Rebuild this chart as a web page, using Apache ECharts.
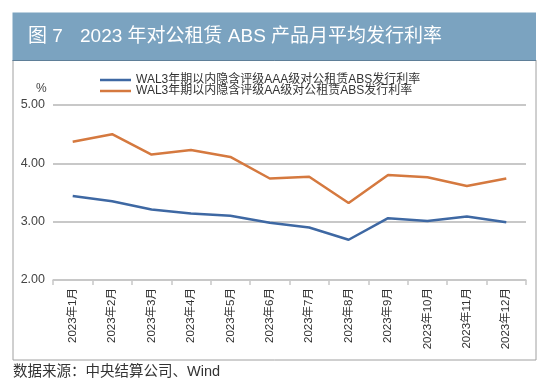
<!DOCTYPE html>
<html><head><meta charset="utf-8">
<script src="https://cdn.jsdelivr.net/npm/echarts@6/dist/echarts.min.js"></script>
<style>html,body{margin:0;padding:0;background:#fff}#c{width:550px;height:392px}</style>
</head><body><div id="c"></div>
<script>
const categories = ['2023年1月','2023年2月','2023年3月','2023年4月','2023年5月','2023年6月','2023年7月','2023年8月','2023年9月','2023年10月','2023年11月','2023年12月'];
const seriesNames = ['WAL3年期以内隐含评级AAA级对公租赁ABS发行利率','WAL3年期以内隐含评级AA级对公租赁ABS发行利率'];
const aaaValues = [3.44,3.35,3.21,3.14,3.10,2.98,2.90,2.69,3.06,3.01,3.09,2.99];
const aaValues = [4.37,4.50,4.15,4.23,4.11,3.74,3.77,3.32,3.80,3.76,3.61,3.74];
const yTicks = [2,3,4,5];
const titleNum = '图 7';
const titleText = '2023 年对公租赁 ABS 产品月平均发行利率';
const sourceText = '数据来源：中央结算公司、Wind';

const FONT = '"Liberation Sans","Noto Sans CJK SC",sans-serif';
const chart = echarts.init(document.getElementById('c'));
chart.setOption({
  animation: false,
  textStyle: {fontFamily: FONT},
  graphic: [
    {type:'rect', shape:{x:13,y:60,width:523,height:300}, style:{fill:'#fff', stroke:'#a0a0a0', lineWidth:1}, z:-10},
    {type:'rect', shape:{x:12.5,y:12.5,width:523.5,height:48}, style:{fill:'#7ba3c0'}, z:-5},
    {type:'line', shape:{x1:12.5,y1:60.5,x2:536,y2:60.5}, style:{stroke:'#5f7f98', lineWidth:1}, z:-4},
    {type:'text', left:28, top:27, style:{text:titleNum, fill:'#fff', font:'19px ' + FONT}},
    {type:'text', left:80, top:27, style:{text:titleText, fill:'#fff', font:'19px ' + FONT}},
    {type:'text', left:36, top:83, style:{text:'%', fill:'#444', font:'12px ' + FONT}},
    {type:'text', left:13, top:365, style:{text:sourceText, fill:'#333', font:'14.5px ' + FONT}}
  ],
  legend: [
    {data:[seriesNames[0]], icon:'rect', left:95, top:69, itemWidth:31, itemHeight:2.5, itemGap:0, textStyle:{fontSize:12, color:'#333', fontFamily:FONT}},
    {data:[seriesNames[1]], icon:'rect', left:95, top:80, itemWidth:31, itemHeight:2.5, itemGap:0, textStyle:{fontSize:12, color:'#333', fontFamily:FONT}}
  ],
  grid: {left:53, right:24, top:105, bottom:112, containLabel:false},
  xAxis: {
    type:'category', data:categories, boundaryGap:true,
    axisLine:{lineStyle:{color:'#c8c8c8', width:1.5}},
    axisTick:{show:true, length:5, lineStyle:{color:'#c8c8c8', width:1.5}},
    axisLabel:{rotate:90, fontSize:11.5, color:'#333', margin:8, fontFamily:FONT, interval:0}
  },
  yAxis: {
    type:'value', min:yTicks[0], max:yTicks[yTicks.length-1], interval:1,
    axisLine:{show:false}, axisTick:{show:false},
    splitLine:{lineStyle:{color:'#c8c8c8', width:1.8}},
    axisLabel:{fontSize:12.5, color:'#444', margin:8, fontFamily:FONT, formatter:v=>v.toFixed(2)}
  },
  series: [
    {name:seriesNames[0], type:'line', data:aaaValues, symbol:'none', lineStyle:{color:'#3e68a3', width:2.5}, itemStyle:{color:'#3e68a3'}},
    {name:seriesNames[1], type:'line', data:aaValues, symbol:'none', lineStyle:{color:'#d5793f', width:2.5}, itemStyle:{color:'#d5793f'}}
  ]
});
</script></body></html>
